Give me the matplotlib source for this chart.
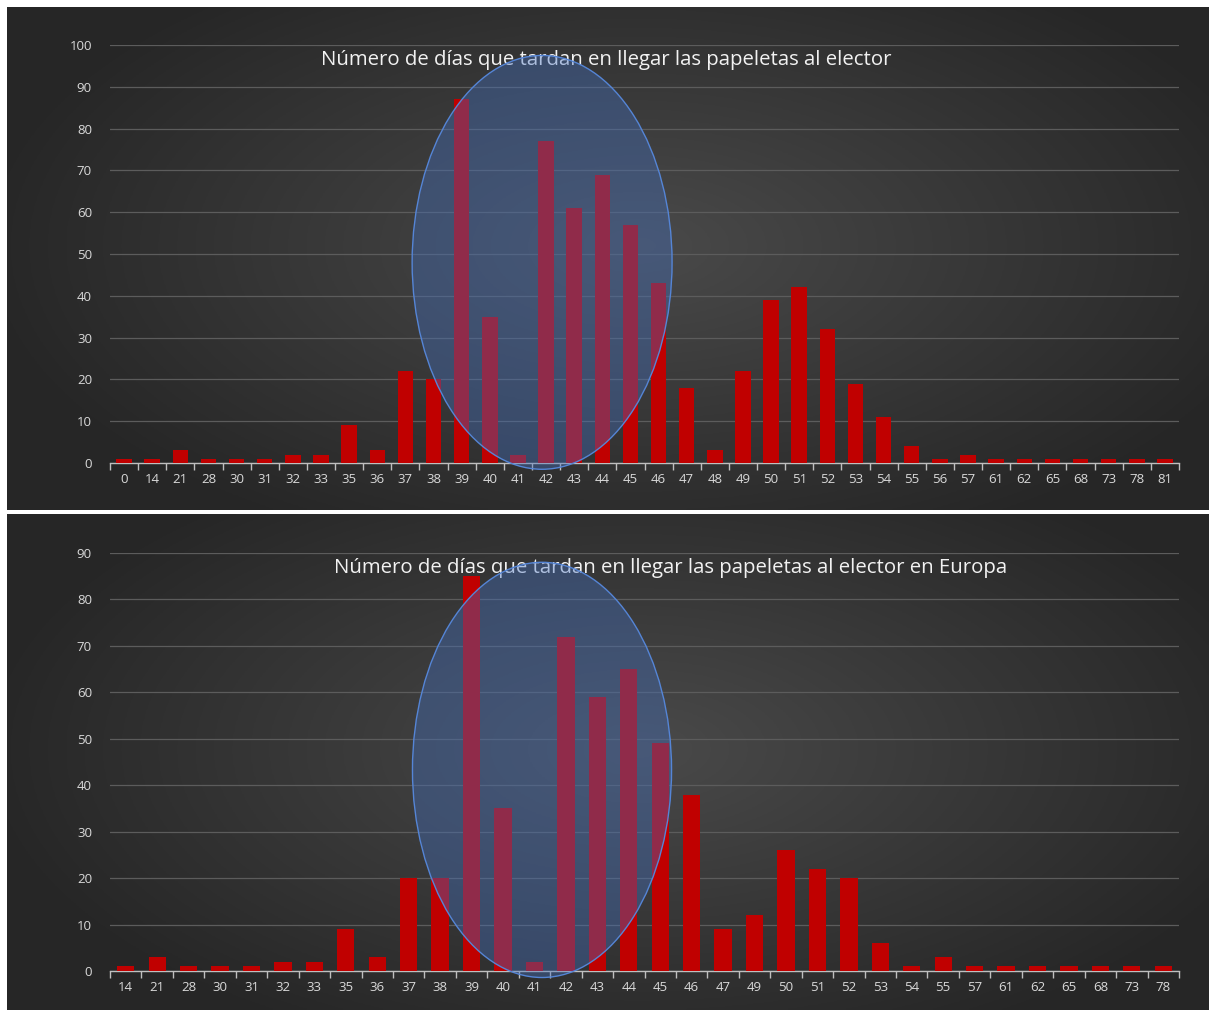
import matplotlib.pyplot as plt
import numpy as np
from matplotlib.patches import Ellipse

plt.rcParams['font.family'] = ['Open Sans', 'DejaVu Sans']

# Datos: número de días -> número de electores
dias_total = ['0', '14', '21', '28', '30', '31', '32', '33', '35', '36', '37', '38', '39',
              '40', '41', '42', '43', '44', '45', '46', '47', '48', '49', '50', '51', '52',
              '53', '54', '55', '56', '57', '61', '62', '65', '68', '73', '78', '81']
n_total = [1, 1, 3, 1, 1, 1, 2, 2, 9, 3, 22, 20, 87,
           35, 2, 77, 61, 69, 57, 43, 18, 3, 22, 39, 42, 32,
           19, 11, 4, 1, 2, 1, 1, 1, 1, 1, 1, 1]

dias_europa = ['14', '21', '28', '30', '31', '32', '33', '35', '36', '37', '38', '39',
               '40', '41', '42', '43', '44', '45', '46', '47', '49', '50', '51', '52',
               '53', '54', '55', '57', '61', '62', '65', '68', '73', '78']
n_europa = [1, 3, 1, 1, 1, 2, 2, 9, 3, 20, 20, 85,
            35, 2, 72, 59, 65, 49, 38, 9, 12, 26, 22, 20,
            6, 1, 3, 1, 1, 1, 1, 1, 1, 1]

titulo_total = 'Número de días que tardan en llegar las papeletas al elector'
titulo_europa = 'Número de días que tardan en llegar las papeletas al elector en Europa'

W, H = 1209, 1010
fig = plt.figure(figsize=(W / 100, H / 100), dpi=100, facecolor='white')


def px_box(x0, y0, x1, y1):
    return [x0 / W, 1 - y1 / H, (x1 - x0) / W, (y1 - y0) / H]


def fondo(y0, y1):
    # degradado radial oscuro detrás de cada gráfico
    bg = fig.add_axes(px_box(7, y0, W, y1), zorder=0)
    xx, yy = np.meshgrid(np.linspace(-1, 1, 400), np.linspace(-1, 1, 200))
    r = np.sqrt(((xx - 0.05) / 1.1) ** 2 + ((yy + 0.05) / 1.3) ** 2)
    v = np.clip(1 - r, 0, 1)
    c = 0.15 + 0.14 * v
    bg.imshow(np.dstack([c, c, c]), aspect='auto', extent=(0, 1, 0, 1))
    bg.set_axis_off()


def grafico(box, dias, valores, ymax, titulo, title_x, elipse):
    ax = fig.add_axes(px_box(*box), zorder=1)
    ax.patch.set_alpha(0)
    x = np.arange(len(dias))
    ax.bar(x, valores, width=0.55, color='#C00000', zorder=3)
    ax.set_xlim(-0.5, len(dias) - 0.5)
    ax.set_ylim(0, ymax)
    ax.set_yticks(np.arange(0, ymax + 1, 10))
    ax.yaxis.grid(True, color='#5c5c5c', linewidth=0.9)
    ax.set_axisbelow(True)
    for s in ['top', 'right', 'left']:
        ax.spines[s].set_visible(False)
    ax.spines['bottom'].set_color('#bfbfbf')
    ax.spines['bottom'].set_linewidth(1.0)
    ax.set_xticks(x)
    ax.set_xticklabels(dias)
    ax.set_xticks(np.arange(-0.5, len(dias)), minor=True)
    ax.tick_params(axis='x', which='major', length=0, pad=7, colors='#d9d9d9', labelsize=9.5)
    ax.tick_params(axis='x', which='minor', length=5, color='#bfbfbf', width=1)
    ax.tick_params(axis='y', length=0, pad=13, colors='#d9d9d9', labelsize=9.5)
    ax.text(title_x, 0.965, titulo, transform=ax.transAxes, ha='center', va='center',
            color='#f2f2f2', fontsize=14.7, zorder=4)
    cx, cy, ew, eh = elipse
    ax.add_patch(Ellipse((cx, cy), ew, eh, facecolor=(0.267, 0.447, 0.769, 0.38),
                         edgecolor='#5585d6', linewidth=1.0, clip_on=False, zorder=5))
    return ax


fondo(7, 510)
fondo(514, H)

grafico((110, 45, 1179, 463), dias_total, n_total, 100, titulo_total, 0.464,
        (14.86, 48, 9.24, 99))
grafico((110, 553, 1179, 971), dias_europa, n_europa, 90, titulo_europa, 0.524,
        (13.24, 43.3, 8.24, 89.4))

fig.savefig('out.png', dpi=100, facecolor='white')
